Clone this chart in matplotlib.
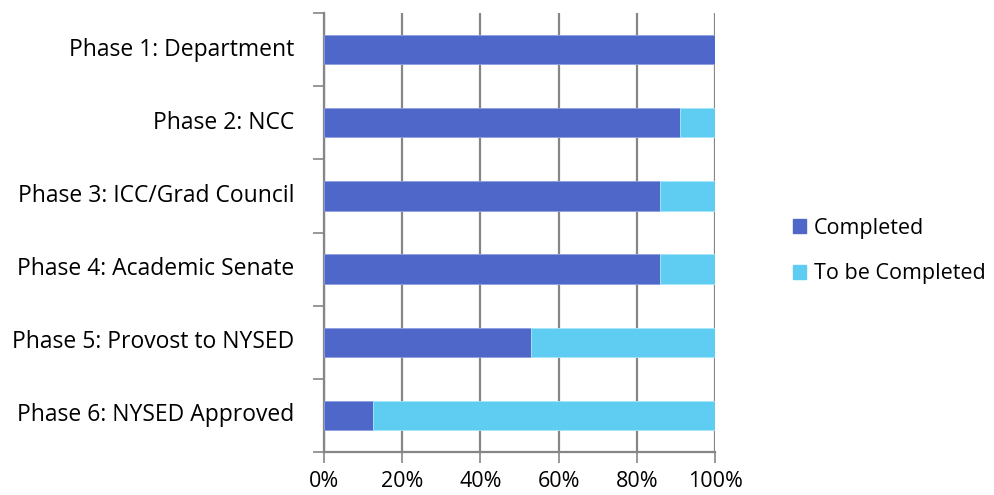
import numpy as np
import matplotlib
matplotlib.use("Agg")
import matplotlib.pyplot as plt
from matplotlib.patches import Patch

phases = ["Phase 1: Department", "Phase 2: NCC", "Phase 3: ICC/Grad Council",
          "Phase 4: Academic Senate", "Phase 5: Provost to NYSED",
          "Phase 6: NYSED Approved"]
completed = [100, 91, 86, 86, 53, 12.5]
remaining = [100 - c for c in completed]
xticks = [0, 20, 40, 60, 80, 100]
xticklabels = ["0%", "20%", "40%", "60%", "80%", "100%"]

dark = "#4F67C8"
light = "#5FCDF2"
grid = "#868686"

plt.rcParams["font.family"] = ["Open Sans", "DejaVu Sans"]
fs = 16.5

fig = plt.figure(figsize=(9.95, 4.95), dpi=100)
ax = fig.add_axes([324 / 995, 1 - 452 / 495, (715 - 324) / 995, (452 - 13) / 495])

y = np.arange(len(phases))
ax.barh(y, completed, height=0.4, color=dark, edgecolor="#8FA0E0", linewidth=0.6, zorder=3)
ax.barh(y, remaining, left=completed, height=0.4, color=light, edgecolor="#A8E6FA",
        linewidth=0.6, zorder=3)

ax.set_xlim(0, 100)
ax.set_ylim(len(phases) - 0.5, -0.5)
ax.set_xticks(xticks)
ax.set_xticklabels(xticklabels, fontsize=15.5)
ax.xaxis.grid(True, color=grid, linewidth=1.6, zorder=0)

# category labels at centres, ticks at boundaries
ax.set_yticks(np.arange(len(phases) + 1) - 0.5)
ax.set_yticklabels([])
ax.tick_params(axis="y", length=8, width=1.2, color=grid, direction="out")
ax.tick_params(axis="x", length=8, width=1.2, color=grid, direction="out", pad=6)
for i, name in enumerate(phases):
    ax.text(-7.5, i, name, ha="right", va="center", fontsize=fs)

for s in ["top", "right"]:
    ax.spines[s].set_visible(False)
for s in ["left", "bottom"]:
    ax.spines[s].set_color(grid)
    ax.spines[s].set_linewidth(1.6)

handles = [Patch(color=dark, label="Completed"), Patch(color=light, label="To be Completed")]
fig.legend(handles=handles, loc="center left", bbox_to_anchor=(774 / 995, 1 - 251 / 495),
           frameon=False, fontsize=15.5, handlelength=0.6, handleheight=0.6,
           handletextpad=0.35, labelspacing=1.15)

fig.savefig("out.png", dpi=100)
